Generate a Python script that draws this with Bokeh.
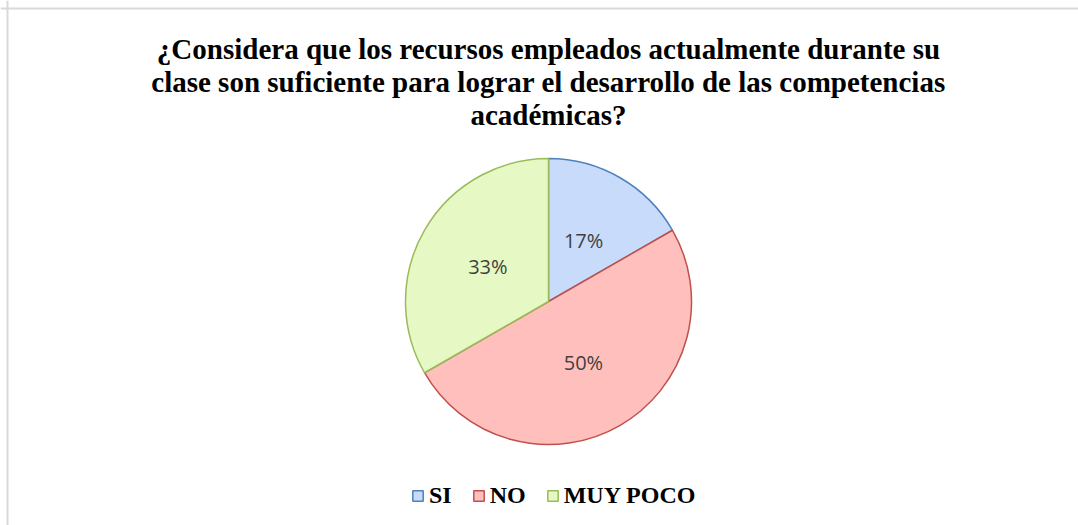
import math
from bokeh.plotting import figure
from bokeh.models import Range1d, Legend, LegendItem, Span, ColumnDataSource
from bokeh.core.properties import value
from bokeh.embed import file_html
from bokeh.resources import INLINE

# ---- data ----
categories = ["SI", "NO", "MUY POCO"]
percentages = [16.7, 50.0, 33.3]
pct_labels = ["17%", "50%", "33%"]
title_lines = [
    "¿Considera que los recursos empleados actualmente durante su",
    "clase son suficiente para lograr el desarrollo de las competencias",
    "académicas?",
]

# ---- style ----
fills = ["#c8dbfb", "#ffc0bd", "#e6f9c4"]
edges = ["#4f81bd", "#c0504d", "#9bbb59"]

W, H = 1078, 525
p = figure(width=W, height=H, output_backend="svg", toolbar_location=None,
           x_range=Range1d(0, W), y_range=Range1d(0, H), min_border=0)
p.axis.visible = False
p.grid.visible = False
p.outline_line_color = None
p.background_fill_color = "white"
p.border_fill_color = "white"

# frame lines (left and top only)
p.add_layout(Span(location=7, dimension="height", line_color="#d9d9d9", line_width=2))
p.add_layout(Span(location=H - 8, dimension="width", line_color="#d9d9d9", line_width=2))

cx, cy, R = 548, 224, 143
total = sum(percentages)
starts, ends, mids = [], [], []
acc = 0.0
for v in percentages:
    a0 = math.pi / 2 - 2 * math.pi * acc / total
    acc += v
    a1 = math.pi / 2 - 2 * math.pi * acc / total
    starts.append(a0)
    ends.append(a1)
    mids.append((a0 + a1) / 2)

items = []
for i, cat in enumerate(categories):
    r = p.wedge(x=cx, y=cy, radius=R, start_angle=starts[i], end_angle=ends[i],
                direction="clock", fill_color=fills[i], line_color=edges[i], line_width=1.5)
    items.append(LegendItem(label=cat, renderers=[r]))

lr = 0.49 * R
src = ColumnDataSource(dict(
    x=[cx + lr * math.cos(m) for m in mids],
    y=[cy + lr * math.sin(m) for m in mids],
    t=pct_labels))
p.text(x="x", y="y", text="t", source=src, text_align="center", text_baseline="middle",
       text_font=value("Open Sans"), text_font_size="20px", text_color="#404040")

# title
baselines = [477, 444, 411]
p.text(x=[548] * 3, y=baselines, text=title_lines, text_align="center",
       text_baseline="alphabetic", text_font=value("Liberation Serif"),
       text_font_style="bold", text_font_size="29px", text_color="black")

legend = Legend(items=items, orientation="horizontal", location=(411, 16),
                glyph_width=13, glyph_height=13, label_standoff=5, spacing=20,
                padding=0, margin=0, label_height=24,
                label_text_font="Liberation Serif", label_text_font_style="bold",
                label_text_font_size="24px", label_text_color="black",
                border_line_color=None, background_fill_alpha=0)
p.add_layout(legend)

open("out.html", "w").write(file_html(p, INLINE))
